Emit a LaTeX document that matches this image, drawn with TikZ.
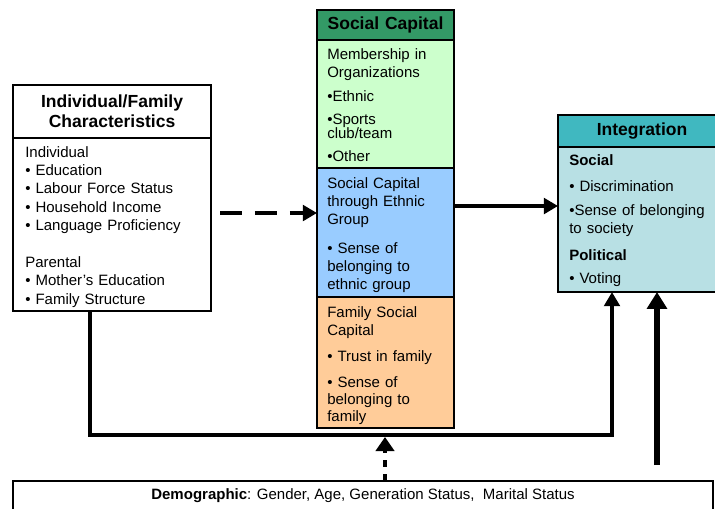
\documentclass[tikz,border=0pt]{standalone}
\usepackage{fontspec}
\setmainfont{Liberation Sans}
\usepackage{xcolor}
\usepackage{tikz}
\usetikzlibrary{positioning, calc, arrows.meta}

\definecolor{capgreen}{RGB}{51,153,102}
\definecolor{membergreen}{RGB}{204,255,204}
\definecolor{ethnicblue}{RGB}{153,204,255}
\definecolor{familyorange}{RGB}{255,204,153}
\definecolor{integteal}{RGB}{64,184,192}
\definecolor{integlight}{RGB}{184,224,228}

\begin{document}
\begin{tikzpicture}[x=0.025cm, y=-0.025cm,
    capbox/.style={draw, line width=1.2pt, inner sep=0pt, outer sep=0pt, anchor=north west},
    headtext/.style={font=\bfseries\fontsize{12.45}{14.2}\selectfont, align=center},
    bodytext/.style={font=\fontsize{10.67}{13.1}\selectfont, align=left, text width=4cm,
        anchor=base west, inner sep=0pt},
    tiearrow/.style={line width=2.8pt, -{Triangle[length=10pt, width=11pt]}},
    bigarrow/.style={line width=3.6pt, -{Triangle[length=12pt, width=14pt]}},
    dasharrow/.style={tiearrow, dash pattern=on 15.6pt off 9.2pt},
    dotarrow/.style={line width=3.5pt, dash pattern=on 5pt off 5pt,
        -{Triangle[length=10pt, width=13pt]}}]
        \useasboundingbox (0,0) rectangle (715,508);

        % individual / family box
        \node[capbox, headtext, text width=4.95cm, minimum height=1.325cm] (indivtitle) at (13,85)
            {Individual/Family\\Characteristics};
        \node[capbox, minimum width=4.95cm, minimum height=4.325cm, below=0pt of indivtitle] (indivbody) {};
        \node[bodytext] (indivtext) at (25,157) {Individual\\
            • Education\\
            • Labour Force Status\\
            • Household Income\\
            • Language Proficiency\\[13pt]
            Parental\\
            • Mother's Education\\
            • Family Structure};

        % social capital column
        \node[capbox, fill=capgreen, headtext, text width=3.425cm, minimum height=0.75cm] (captitle) at (317,10)
            {Social Capital};
        \node[capbox, fill=membergreen, minimum width=3.425cm, minimum height=3.2cm, below=0pt of captitle] (member) {};
        \node[capbox, fill=ethnicblue, minimum width=3.425cm, minimum height=3.225cm, below=0pt of member] (ethnic) {};
        \node[capbox, fill=familyorange, minimum width=3.425cm, minimum height=3.275cm, below=0pt of ethnic] (family) {};

        \node[bodytext] (membertext) at (327,59) {Membership in\\
            Organizations\\[4.3pt]
            •Ethnic\\[2.8pt]
            •Sports\\[-3.2pt]
            club/team\\[3.6pt]
            •Other};
        \node[bodytext] (ethnictext) at (327,188) {Social Capital\\
            through Ethnic\\
            Group\\[7pt]
            • Sense of\\
            belonging to\\
            ethnic group};
        \node[bodytext] (familytext) at (327,317) {Family Social\\
            Capital\\[5.4pt]
            • Trust in family\\[5.4pt]
            • Sense of\\[-1pt]
            belonging to\\[-1pt]
            family};

        % integration box
        \node[capbox, fill=integteal, headtext, text width=4.2cm, minimum height=0.8cm] (integtitle) at (558,115)
            {Integration};
        \node[capbox, fill=integlight, minimum width=4.2cm, minimum height=3.625cm, below=0pt of integtitle] (integbody) {};
        \node[bodytext] (integtext) at (569,165) {\textbf{Social}\\[5.4pt]
            • Discrimination\\[4.6pt]
            •Sense of belonging\\[-0.6pt]
            to society\\[5.8pt]
            \textbf{Political}\\[3.6pt]
            • Voting};

        % demographic strip
        \node[capbox, minimum width=17.5cm, minimum height=1cm] (demo) at (13,481) {};
        \node[bodytext, text width=, anchor=base] (demotext) at (363,499)
            {\textbf{Demographic}: Gender, Age, Generation Status,\ \ Marital Status};

        % the arrows
        \coordinate (dashstart) at (220,213);
        \draw[dasharrow] (dashstart) -- (dashstart -| ethnic.west);

        \coordinate (solidrow) at (0,206);
        \draw[tiearrow] (solidrow -| ethnic.east) -- (solidrow -| integbody.west);

        \coordinate (loopL) at (90,435);
        \coordinate (loopR) at (612,435);
        \draw[tiearrow] (loopL |- indivbody.south) -- (loopL) -- (loopR) -- (loopR |- integbody.south);

        \coordinate (dotstart) at (385,481);
        \coordinate (dotend) at (385,437);
        \draw[dotarrow] (dotstart) -- (dotend);

        \coordinate (bigstart) at (657,465);
        \draw[bigarrow] (bigstart) -- (bigstart |- integbody.south);
    \end{tikzpicture}
\end{document}
